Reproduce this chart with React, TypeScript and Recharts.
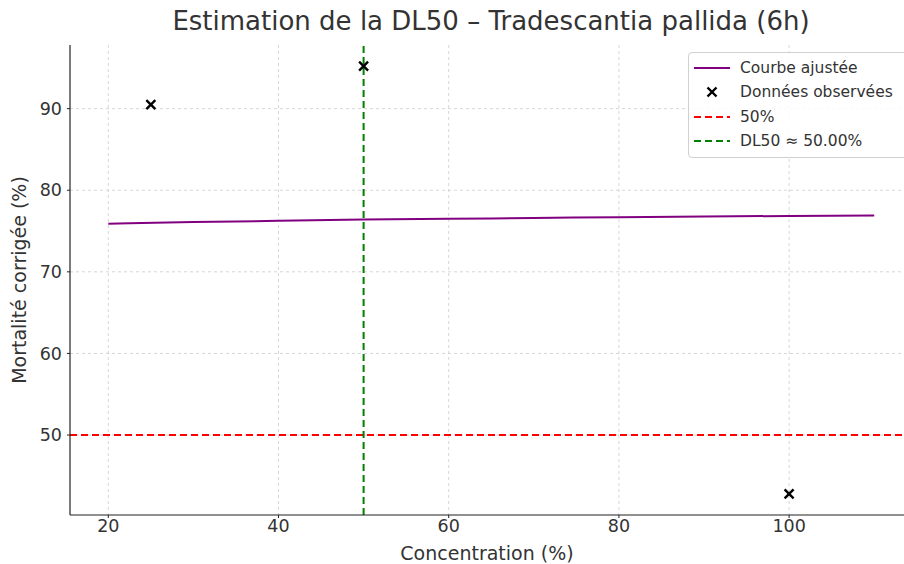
import {
  ComposedChart,
  Line,
  Scatter,
  XAxis,
  YAxis,
  CartesianGrid,
  ReferenceLine,
  Label,
} from 'recharts';

const curveX = [20, 30, 40, 50, 60, 70, 80, 90, 100, 110];
const curveY = [75.9, 76.1, 76.25, 76.4, 76.5, 76.6, 76.7, 76.78, 76.85, 76.9];

const obsX = [25, 50, 100];
const obsY = [90.5, 95.2, 42.8];

const xTicks = [20, 40, 60, 80, 100];
const yTicks = [50, 60, 70, 80, 90];

const threshold = 50;
const dl50 = 50;

const TEXT = '#333333';
const FONT = '"DejaVu Sans", sans-serif';

const curveData = curveX.map((x, i) => ({ x, y: curveY[i] }));
const obsData = obsX.map((x, i) => ({ x, y: obsY[i] }));

const Cross = (props: any) => {
  const { cx, cy } = props;
  const s = 4.5;
  return (
    <g stroke="#000" strokeWidth={2.4}>
      <line x1={cx - s} y1={cy - s} x2={cx + s} y2={cy + s} />
      <line x1={cx - s} y1={cy + s} x2={cx + s} y2={cy - s} />
    </g>
  );
};

function LegendBox() {
  const row = { display: 'flex', alignItems: 'center', height: 24.3 };
  const sample = { width: 36, marginRight: 10, display: 'flex', justifyContent: 'center' };
  return (
    <div
      style={{
        position: 'absolute',
        left: 688,
        top: 52,
        width: 230,
        height: 106,
        boxSizing: 'border-box',
        border: '1px solid #d0d0d0',
        borderRadius: 4,
        background: 'rgba(255,255,255,0.85)',
        padding: '3px 0 0 5px',
        fontFamily: FONT,
        fontSize: 15.5,
        color: TEXT,
      }}
    >
      <div style={row}>
        <div style={sample}>
          <svg width={36} height={6}><line x1={0} y1={3} x2={36} y2={3} stroke="#800080" strokeWidth={2} /></svg>
        </div>
        Courbe ajustée
      </div>
      <div style={row}>
        <div style={sample}>
          <svg width={12} height={12}><Cross cx={6} cy={6} /></svg>
        </div>
        Données observées
      </div>
      <div style={row}>
        <div style={sample}>
          <svg width={36} height={6}><line x1={0} y1={3} x2={36} y2={3} stroke="#ff0000" strokeWidth={2} strokeDasharray="7 4" /></svg>
        </div>
        50%
      </div>
      <div style={row}>
        <div style={sample}>
          <svg width={36} height={6}><line x1={0} y1={3} x2={36} y2={3} stroke="#008000" strokeWidth={2} strokeDasharray="7 4" /></svg>
        </div>
        DL50 ≈ 50.00%
      </div>
    </div>
  );
}

export default function App() {
  return (
    <div style={{ position: 'absolute', left: 0, top: 0, width: 904, height: 564, background: '#fff', overflow: 'hidden', fontFamily: FONT }}>
      <div style={{ position: 'absolute', left: 0, top: 6, width: 982, textAlign: 'center', fontSize: 26, color: TEXT }}>
        Estimation de la DL50 – Tradescantia pallida (6h)
      </div>
      <ComposedChart
        width={904}
        height={564}
        margin={{ top: 45, right: 0, bottom: 0, left: 0 }}
      >
        <CartesianGrid
          stroke="#cccccc"
          strokeDasharray="3 3"
          strokeWidth={0.8}
          horizontalValues={yTicks}
          verticalValues={xTicks}
        />
        <XAxis
          type="number"
          dataKey="x"
          domain={[15.5, 113.5]}
          ticks={xTicks}
          allowDataOverflow
          axisLine={{ stroke: '#222', strokeWidth: 1.2 }}
          tickLine={{ stroke: '#222' }}
          tickSize={3}
          tickMargin={2}
          tick={{ fill: TEXT, fontSize: 17.5, fontFamily: FONT }}
          height={49}
        >
          <Label value="Concentration (%)" position="insideBottom" offset={4} style={{ fill: TEXT, fontSize: 19, fontFamily: FONT }} />
        </XAxis>
        <YAxis
          type="number"
          dataKey="y"
          domain={[40.2, 97.8]}
          ticks={yTicks}
          allowDataOverflow
          width={70}
          axisLine={{ stroke: '#222', strokeWidth: 1.2 }}
          tickLine={{ stroke: '#222' }}
          tickSize={3}
          tickMargin={5}
          tick={{ fill: TEXT, fontSize: 17.5, fontFamily: FONT }}
        >
          <Label value="Mortalité corrigée (%)" angle={-90} position="insideLeft" offset={0} dx={19} style={{ fill: TEXT, fontSize: 19, fontFamily: FONT, textAnchor: 'middle' }} />
        </YAxis>
        <ReferenceLine y={threshold} stroke="#ff0000" strokeWidth={2} strokeDasharray="7 4" />
        <ReferenceLine x={dl50} stroke="#008000" strokeWidth={2} strokeDasharray="7 4" />
        <Line
          data={curveData}
          dataKey="y"
          type="monotone"
          stroke="#800080"
          strokeWidth={2}
          dot={false}
          activeDot={false}
          isAnimationActive={false}
        />
        <Scatter data={obsData} dataKey="y" shape={<Cross />} isAnimationActive={false} />
      </ComposedChart>
      <LegendBox />
    </div>
  );
}
